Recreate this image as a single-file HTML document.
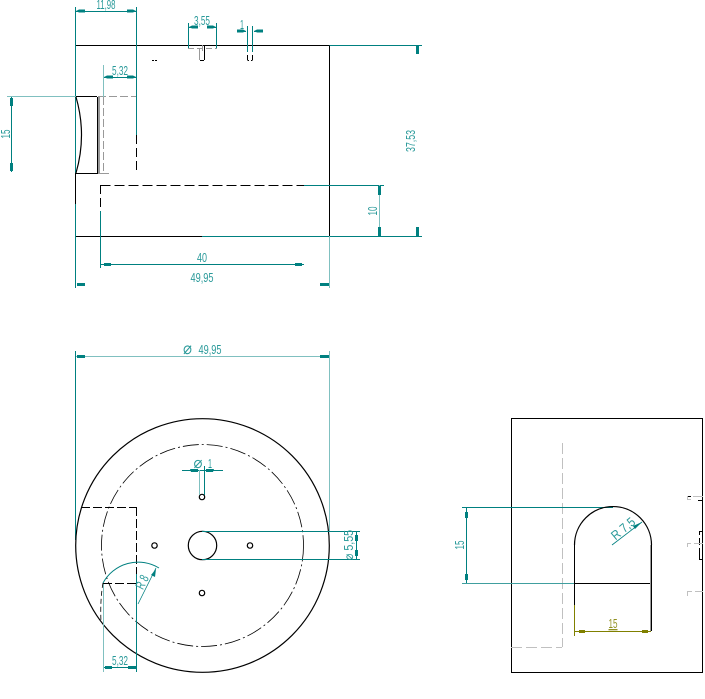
<!DOCTYPE html>
<html><head><meta charset="utf-8"><style>
html,body{margin:0;padding:0;background:#fff}
svg{display:block}
.l{fill:none;shape-rendering:crispEdges;stroke-width:1}
.k{stroke:#000}.t{stroke:#008080}.lt{stroke:#80c0c0}.g{stroke:#999}.lg{stroke:#c0c0c0}.o{stroke:#808000}
.c{fill:none;stroke:#000;stroke-width:1.200}
text{font-family:"Liberation Sans",sans-serif;font-size:13px;fill:#2a9a9a;text-anchor:middle}
.a{fill:#008080;stroke:none}
.ao{fill:#808000;stroke:none}
</style></head><body>
<svg width="705" height="699" viewBox="0 0 705 699" xmlns="http://www.w3.org/2000/svg">
<!-- Front view -->
<g class="l">
<path class="k" d="M75.5 45.5H329.5V236.5M75.5 173V204M97.5 97V173"/>
<path class="k" d="M75.5 236.500H202M76 96.500H97M76 173.500H98"/>
<path class="g" d="M98 173.500H109M98.500 97V173M99.500 97V173"/>
<path class="g" stroke-dasharray="8 3" d="M98 96.500H136M103.500 97V173"/>
<path class="t" d="M75.500 7V173M75.500 204V288M136.500 7V135M188.500 23V48M216.500 23V48M247.500 26V52M252.500 26V52"/>
<path class="k" stroke-dasharray="9 4" d="M136.500 135V173M100.500 185V211"/>
<path class="k" stroke-dasharray="10 4" d="M100.500 185.500H304"/>
<path class="t" d="M304 185.500H384M202 236.500H422M329.500 45.500H422M100.500 211V268M100 264.500H304M417.500 46V54M417.500 227V236M379.500 186V195M379.500 227V236M76 11.500H136M11.500 97V172"/>
<path class="lt" d="M7 96.500H76M103.500 65V97M379.500 185V236M329.500 236V288M329.500 351V531M76 356.500H329"/>
<path class="t" d="M75.500 351V540"/>
<path class="g" stroke-dasharray="6 3" d="M188 48.500H217"/>
<path class="k" d="M204.500 46V60M200 60.500H204M247.500 60.500H249M251 60.500H252.500M252.500 55V60M247.500 55V60M152 60.500H154M155 60.500H157"/>
<path class="g" d="M199.500 49V60M202.500 45V51"/>
<path class="t" d="M104 77.500H136M189 27.500H197M208 27.500H216M238 31.500H246M254 31.500H262"/>
</g>
<path class="c" d="M76 97Q87 135 76 173"/>
<g class="a">
<path d="M76 11l3-1.500h6v3h-6zM136 11l-3-1.500h-6v3h6z"/>
<path d="M189 27l3-1.500h6v3h-6zM216 27l-3-1.500h-6v3h6z"/>
<path d="M246 31l-3-1.500h-6v3h6zM254 31l3-1.500h6v3h-6z"/>
<path d="M104 77l3-1.500h6v3h-6zM136 77l-3-1.500h-6v3h6z"/>
<path d="M10 98h3v8h-3zM10 163h3v8h-3z"/>
<path d="M416 46h3v8h-3zM416 227h3v9h-3zM378 186h3v9h-3zM378 227h3v9h-3z"/>
<path d="M104 263h7v3h-7zM295 263h7v3h-7z"/>
<path d="M77 283h8v3h-8zM320 283h9v3h-9z"/>
<path d="M77 355h8v3h-8zM320 355h9v3h-9z"/>
</g>
<text x="106" y="9" textLength="19" lengthAdjust="spacingAndGlyphs">11,98</text>
<text x="202" y="25" textLength="16" lengthAdjust="spacingAndGlyphs">3,55</text>
<text x="242" y="29" textLength="4" lengthAdjust="spacingAndGlyphs">1</text>
<text x="120" y="75" textLength="16" lengthAdjust="spacingAndGlyphs">5,32</text>
<text transform="translate(10 134) rotate(-90)" textLength="9" lengthAdjust="spacingAndGlyphs">15</text>
<text transform="translate(415 141) rotate(-90)" textLength="22" lengthAdjust="spacingAndGlyphs">37,53</text>
<text transform="translate(377 211) rotate(-90)" textLength="9" lengthAdjust="spacingAndGlyphs">10</text>
<text x="202" y="262" textLength="10" lengthAdjust="spacingAndGlyphs">40</text>
<text x="202" y="282" textLength="23" lengthAdjust="spacingAndGlyphs">49,95</text>
<text x="187.500" y="354" style="font-size:17px" textLength="9" lengthAdjust="spacingAndGlyphs">⌀</text>
<text x="210" y="354" textLength="23" lengthAdjust="spacingAndGlyphs">49,95</text>
<!-- Top/bottom view -->
<circle class="c" cx="202.500" cy="545.500" r="126.800"/>
<circle class="c" cx="202.500" cy="545.500" r="101" stroke-dasharray="16 3 2 3" style="stroke-width:.8"/>
<circle class="c" cx="202.500" cy="545.500" r="14.200"/>
<circle class="c" cx="202" cy="497" r="2.700"/>
<circle class="c" cx="202" cy="593" r="2.700"/>
<circle class="c" cx="154.500" cy="545.500" r="2.700"/>
<circle class="c" cx="250" cy="545.500" r="2.700"/>
<g class="l">
<path class="t" d="M202 531.500H360M202 559.500H360M356.500 532V559M182 470.500H223M204.500 466V495M136.500 574V672M104 667.500H136"/>
<path class="lt" d="M199.500 470V495M103.500 583V672"/>
<path class="k" stroke-dasharray="9 3" d="M81 507.500H136.500M136.500 507V574M103 583.500H136"/>
</g>
<path class="c" d="M103 583Q100 600 101 622" stroke-dasharray="5 3" style="stroke-width:.8"/>
<path d="M103 583A40 40 0 0 1 159 568" fill="none" stroke="#008080"/>
<path d="M138 604L156 568" fill="none" stroke="#008080" stroke-width=".8"/>
<g class="a">
<path d="M190 469h8v3h-7zM206 469h8l-1 3h-7z"/>
<path d="M355 535h3v6h-3zM355 550h3v6h-3z"/>
<path d="M105 666h7v3h-7zM128 666h8v3h-8z"/>
<path d="M156 569l-1 8-4-2z"/>
</g>
<text x="198" y="468" style="font-size:16px" textLength="9" lengthAdjust="spacingAndGlyphs">⌀</text>
<text x="210" y="468" textLength="4" lengthAdjust="spacingAndGlyphs">1</text>
<text x="120" y="665" textLength="16" lengthAdjust="spacingAndGlyphs">5,32</text>
<text transform="translate(146 584) rotate(-63)" textLength="14" lengthAdjust="spacingAndGlyphs">R 8</text>
<text transform="translate(353 545) rotate(-90)" textLength="30" lengthAdjust="spacingAndGlyphs">⌀ 5,55</text>
<!-- Side view -->
<g class="l">
<path class="k" d="M511.500 418.500H702.500V672.500H511.500ZM574.500 545V605M651.500 545V631M574.500 583.500H651"/>
<path class="g" d="M650.500 545V631"/>
<path class="lg" stroke-dasharray="11 4" d="M562.500 443V647M511 647.500H562"/>
<path class="t" d="M462 507.500H613M466.500 507V583"/>
<path d="M462 583.500H574" stroke="#409f9f" fill="none" shape-rendering="crispEdges"/>
<path class="o" d="M574.500 605V636M575 631.500H651"/>
<path class="k" d="M687 496.500H691M698 500.500H703M699.500 531V535M699.500 538V545M699.500 548V559M699 531.500H702M699 559.500H702"/>
<path class="lg" d="M693 496.500H703M687.500 496V500M687 499.500H691M687.500 543V547M687 543.500H691M694 543.500H703M687.500 591V596M687 591.500H692M695 591.500H703"/>
</g>
<path class="c" d="M574.500 545A38.500 38.500 0 0 1 651.500 545"/>
<path d="M612 545L642 522" fill="none" stroke="#008080" stroke-width=".8"/>
<g class="a">
<path d="M465 512h3v6h-3zM465 574h3v6h-3z"/>
<path d="M642 522l-7 7-2-3z"/>
</g>
<g class="ao"><path d="M579 630h6v3h-6zM642 630h6v3h-6z"/></g>
<text transform="translate(464 545) rotate(-90)" textLength="9" lengthAdjust="spacingAndGlyphs">15</text>
<text transform="translate(626 532) rotate(-40)" textLength="27" lengthAdjust="spacingAndGlyphs">R 7,5</text>
<text x="613" y="628" style="fill:#909020" textLength="9" lengthAdjust="spacingAndGlyphs" text-decoration="underline">15</text>
</svg>
</body></html>
